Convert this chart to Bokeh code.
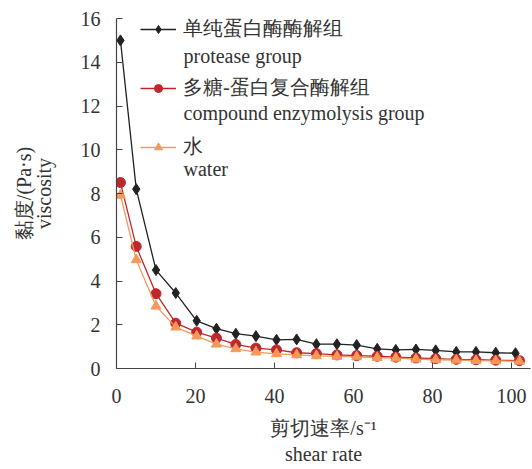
from bokeh.plotting import figure
from bokeh.models import Legend, LegendItem, Label, Range1d, FixedTicker
from bokeh.embed import file_html
from bokeh.resources import INLINE

# data
x_protease = [1, 5, 10, 15, 20.3, 25.3, 30.2, 35.3, 40.5, 45.6, 50.6, 55.8, 60.8, 66, 70.7, 75.8, 80.8, 86, 91, 96, 101]
x_other = [1, 5, 10, 15, 20.3, 25.3, 30.2, 35.3, 40.5, 45.6, 50.6, 55.8, 60.8, 66, 70.7, 75.8, 80.8, 86, 91, 96, 102]
y_protease = [15.0, 8.2, 4.5, 3.45, 2.18, 1.82, 1.59, 1.48, 1.31, 1.33, 1.11, 1.11, 1.07, 0.9, 0.85, 0.87, 0.83, 0.76, 0.76, 0.72, 0.7]
y_compound = [8.5, 5.58, 3.42, 2.07, 1.66, 1.39, 1.10, 0.93, 0.85, 0.72, 0.68, 0.62, 0.59, 0.56, 0.52, 0.48, 0.45, 0.42, 0.40, 0.38, 0.36]
y_water = [7.92, 4.97, 2.85, 1.89, 1.48, 1.11, 0.9, 0.75, 0.67, 0.62, 0.58, 0.55, 0.53, 0.5, 0.47, 0.43, 0.4, 0.38, 0.36, 0.35, 0.33]

names_cn = ["单纯蛋白酶酶解组", "多糖-蛋白复合酶解组", "水"]
names_en = ["protease group", "compound enzymolysis group", "water"]
x_ticks = [0, 20, 40, 60, 80, 100]
y_ticks = [0, 2, 4, 6, 8, 10, 12, 14, 16]
x_label = "剪切速率/s⁻¹\nshear rate"
y_label = "黏度/(Pa·s)\nviscosity"

FONT = "Liberation Serif"
TXT = "#333333"

p = figure(width=532, height=469, output_backend="svg", toolbar_location=None,
           x_range=Range1d(0, 104.8), y_range=Range1d(0, 16),
           min_border_left=116, min_border_right=2, min_border_top=18, min_border_bottom=101)
p.outline_line_color = None
p.grid.grid_line_color = None
p.background_fill_color = "white"

c_black = "#222222"
c_red = "#C0272D"
c_orange = "#F39A5B"

l1 = p.line(x_protease, y_protease, line_color=c_black, line_width=1.3)
m1 = p.scatter(x_protease, y_protease, marker="diamond", size=11, fill_color=c_black, line_color=c_black)
l2 = p.line(x_other, y_compound, line_color=c_red, line_width=1.3)
m2 = p.scatter(x_other, y_compound, marker="circle", size=10, fill_color=c_red, line_color=c_red)
l3 = p.line(x_other, y_water, line_color=c_orange, line_width=1.3)
m3 = p.scatter(x_other, y_water, marker="triangle", size=10, fill_color=c_orange, line_color=c_orange)

for ax in (p.xaxis[0], p.yaxis[0]):
    ax.axis_line_color = "#444444"
    ax.axis_line_width = 1.2
    ax.major_tick_line_color = "#444444"
    ax.major_tick_in = 6
    ax.major_tick_out = 0
    ax.minor_tick_line_color = None
    ax.major_label_text_font = FONT
    ax.major_label_text_font_size = "20px"
    ax.major_label_text_color = TXT
    ax.axis_label_text_font = FONT
    ax.axis_label_text_font_size = "20px"
    ax.axis_label_text_font_style = "normal"
    ax.axis_label_text_color = TXT

p.xaxis[0].ticker = FixedTicker(ticks=x_ticks)
p.yaxis[0].ticker = FixedTicker(ticks=y_ticks)
p.xaxis[0].major_label_standoff = 20
p.yaxis[0].major_label_standoff = 16
p.xaxis[0].axis_label = x_label
p.xaxis[0].axis_label_standoff = 11
p.yaxis[0].axis_label = y_label
p.yaxis[0].axis_label_standoff = 23
p.yaxis[0].axis_label_text_line_height = 0.9

legend = Legend(items=[
    LegendItem(label=names_cn[0], renderers=[l1, m1]),
    LegendItem(label=names_cn[1], renderers=[l2, m2]),
    LegendItem(label=names_cn[2], renderers=[l3, m3]),
], location=(24, 208), border_line_color=None, background_fill_alpha=0,
    label_text_font=FONT, label_text_font_size="20px", label_text_color=TXT,
    glyph_width=36, glyph_height=20, label_standoff=7, label_height=20,
    spacing=32, padding=0, margin=0)
p.add_layout(legend, "center")

# second (English) line of each legend entry
en_y = [313, 256, 200]
for name, yy in zip(names_en, en_y):
    p.add_layout(Label(x=67, y=yy, x_units="screen", y_units="screen", text=name,
                       text_font=FONT, text_font_size="20px", text_color=TXT,
                       text_baseline="middle"))

open("out.html", "w").write(file_html(p, INLINE))
